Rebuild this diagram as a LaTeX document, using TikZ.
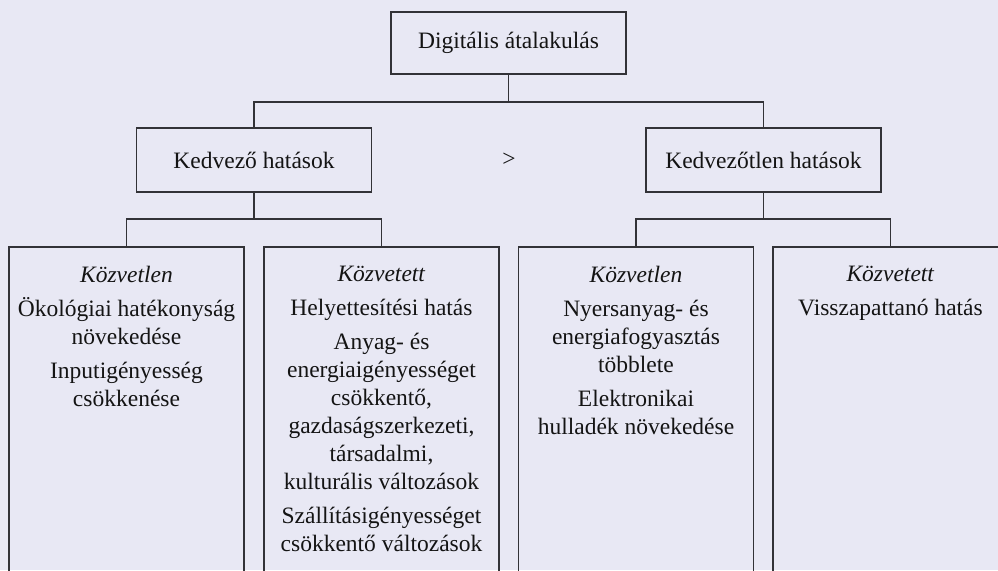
\documentclass[tikz,border=0pt]{standalone}
\usepackage{fontspec}
\setmainfont{Liberation Serif}
\usepackage{xcolor}
\usepackage{tikz}
\definecolor{bglav}{RGB}{232,232,244}
\definecolor{linegray}{RGB}{50,50,55}

\begin{document}
\begin{tikzpicture}[x=1pt,y=-1pt,line width=1.5pt,draw=linegray,
    every node/.style={font=\fontsize{23.5}{28}\selectfont,text=black!92},
    box/.style={draw=linegray,rectangle,minimum width=235pt,minimum height=63pt,inner sep=0pt},
    lowbox/.style={draw=linegray,rectangle,minimum width=235pt,minimum height=360pt,inner sep=0pt,anchor=north},
    lowtext/.style={align=center,anchor=north,inner sep=0pt,yshift=-19pt}]
    \fill[bglav] (0,0) rectangle (998,570);
    \clip (0,0) rectangle (998,570);
    \node[box,minimum height=62pt](digit) at (508.5,43){Digitális átalakulás};
    \node[box,minimum height=64pt](kedv) at (254,160){Kedvező hatások};
    \node[box,minimum height=64pt](kedvtl) at (763.5,160){Kedvezőtlen hatások};
    \node(gt) at (509,160){>};
    \node[lowbox](b1) at (126.5,246){};
    \node[lowbox](b2) at (381.5,246){};
    \node[lowbox](b3) at (636,246){};
    \node[lowbox](b4) at (890.5,246){};
    \node[lowtext](t1) at (b1.north){\textit{Közvetlen}\\[6pt]
      Ökológiai hatékonyság\\növekedése\\[6pt]
      Inputigényesség\\csökkenése};
    \node[lowtext](t2) at (b2.north){\textit{Közvetett}\\[6pt]
      Helyettesítési hatás\\[6pt]
      Anyag- és\\energiaigényességet\\csökkentő,\\gazdaságszerkezeti,\\társadalmi,\\kulturális változások\\[6pt]
      Szállításigényességet\\csökkentő változások};
    \node[lowtext](t3) at (b3.north){\textit{Közvetlen}\\[6pt]
      Nyersanyag- és\\energiafogyasztás\\többlete\\[6pt]
      Elektronikai\\hulladék növekedése};
    \node[lowtext](t4) at (b4.north){\textit{Közvetett}\\[6pt]
      Visszapattanó hatás};
    \draw (digit.south) -- ++(0,27) -| (kedv.north);
    \draw (digit.south) ++(0,27) -| (kedvtl.north);
    \draw (kedv.south) -- ++(0,26) -| (b1.north);
    \draw (kedv.south) ++(0,26) -| (b2.north);
    \draw (kedvtl.south) -- ++(0,26) -| (b3.north);
    \draw (kedvtl.south) ++(0,26) -| (b4.north);
  \end{tikzpicture}
\end{document}
